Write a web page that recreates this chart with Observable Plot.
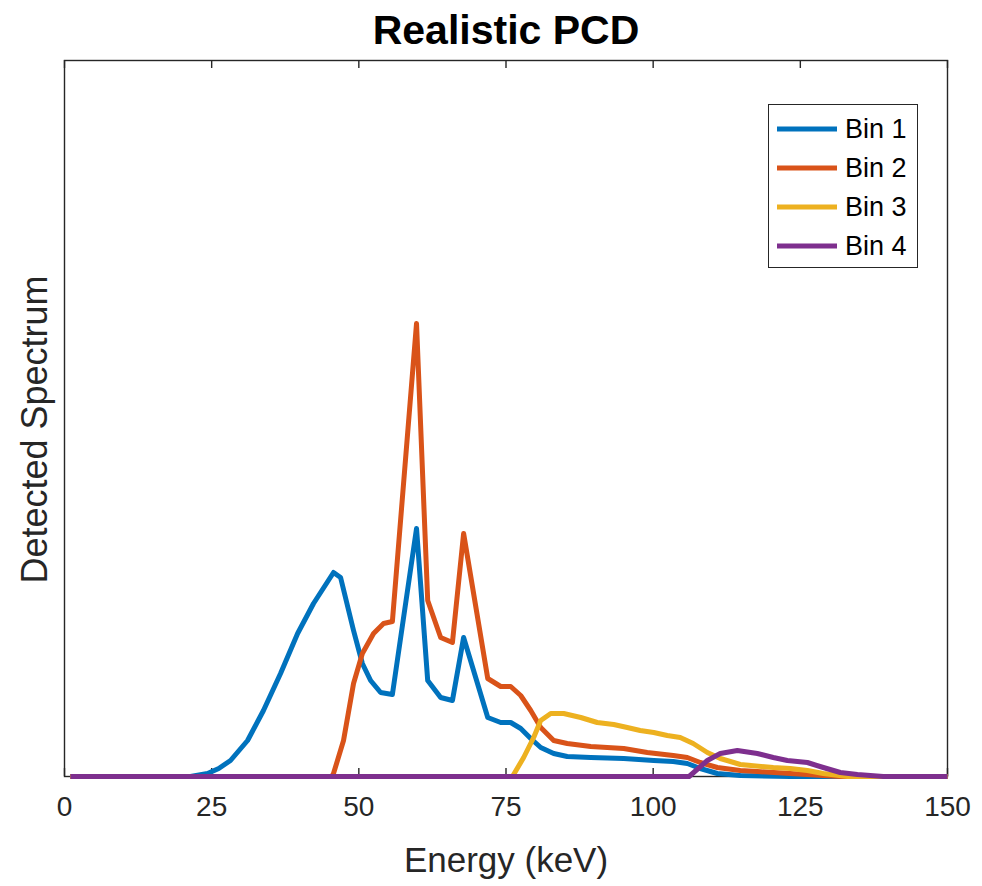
<!DOCTYPE html>
<html>
<head>
<meta charset="utf-8">
<script src="https://cdn.jsdelivr.net/npm/d3@7"></script>
<script src="https://cdn.jsdelivr.net/npm/@observablehq/plot@0.6"></script>
<style>
  html, body { margin: 0; padding: 0; background: #fff; }
  #wrap { position: relative; width: 982px; height: 886px; font-family: "Liberation Sans", Arial, Helvetica, sans-serif; }
  #legend { position: absolute; left: 768px; top: 104px; width: 150px; height: 164px; box-sizing: border-box;
            border: 1.3px solid #262626; background: #fff; }
  .entry { position: absolute; left: 8px; height: 30px; display: flex; align-items: center; font-size: 27px; color: #000; }
  .entry svg { margin-right: 8px; }
</style>
</head>
<body>
<div id="wrap"><div id="legend"></div></div>
<script>
// ---- data ----
const binNames = ["Bin 1", "Bin 2", "Bin 3", "Bin 4"];
const binColors = ["#0072BD", "#D95319", "#EDB120", "#7E2F8E"];
const xTicks = [0, 25, 50, 75, 100, 125, 150];

const bin1Energy = [1, 21.4, 24.3, 26.2, 28.2, 31.1, 33.8, 36.7, 39.6, 42.3, 45.7, 46.9, 49.1, 50.6, 52.0, 53.7, 55.7, 59.8, 61.7, 63.9, 65.9, 67.8, 71.9, 74.1, 75.8, 77.5, 79.2, 80.9, 83.1, 85.4, 89.4, 95.0, 100.1, 103.4, 105.8, 108.0, 110.9, 114.8, 123.3, 150];
const bin1Counts = [0, 0, 3, 8, 16, 36, 66, 103, 143, 173, 204, 199, 146, 113, 96, 84, 82, 248, 96, 79, 76, 139, 59, 54, 54, 48, 38, 29, 23, 20, 19, 18, 16, 15, 13, 8, 3, 1, 0, 0];

const bin2Energy = [1, 45.4, 45.7, 47.4, 49.1, 50.6, 52.5, 54.2, 55.7, 59.8, 61.7, 63.9, 65.9, 67.8, 71.9, 74.1, 75.8, 77.5, 79.2, 80.9, 83.1, 85.4, 89.4, 95.0, 99.0, 103.4, 105.8, 108.0, 110.9, 114.8, 117.7, 123.3, 128.9, 131.8, 150];
const bin2Counts = [0, 0, 3, 36, 93, 123, 143, 153, 155, 453, 176, 139, 134, 243, 98, 90, 90, 81, 66, 49, 36, 33, 30, 28, 24, 21, 19, 14, 9, 6, 5, 3, 1, 0, 0];

const bin3Energy = [1, 76.1, 78.0, 79.7, 80.9, 82.6, 84.8, 87.7, 90.5, 93.3, 95.6, 97.8, 100.1, 102.4, 104.6, 106.8, 109.2, 111.4, 114.8, 120.4, 123.3, 126.2, 128.9, 133.0, 150];
const bin3Counts = [0, 0, 19, 39, 56, 63, 63, 59, 54, 52, 49, 46, 44, 41, 39, 33, 24, 18, 12, 9, 8, 6, 3, 0, 0];

const bin4Energy = [1, 106.1, 109.2, 111.4, 114.3, 117.7, 120.4, 122.8, 126.2, 128.9, 131.8, 134.7, 139.1, 150];
const bin4Counts = [0, 0, 16, 23, 26, 23, 19, 16, 14, 9, 4, 2, 0, 0];

const energies = [bin1Energy, bin2Energy, bin3Energy, bin4Energy];
const counts = [bin1Counts, bin2Counts, bin3Counts, bin4Counts];
const rows = binNames.flatMap((name, i) => energies[i].map((e, j) => ({bin: name, energy: e, value: counts[i][j]})));

const ink = "#262626";
const yMax = 716;

const chart = Plot.plot({
  width: 982,
  height: 886,
  marginLeft: 64,
  marginRight: 35,
  marginTop: 60,
  marginBottom: 110,
  style: {fontFamily: "'Liberation Sans', Arial, Helvetica, sans-serif", color: ink, background: "#fff", overflow: "visible"},
  x: {domain: [0, 150], ticks: xTicks},
  y: {domain: [0, yMax], axis: null},
  color: {domain: binNames, range: binColors},
  marks: [
    Plot.frame({stroke: ink, strokeWidth: 1.4}),
    Plot.ruleX(xTicks, {x: d => d, y1: 0, y2: 8, stroke: ink, strokeWidth: 1.4}),
    Plot.ruleX(xTicks, {x: d => d, y1: yMax - 8, y2: yMax, stroke: ink, strokeWidth: 1.4}),
    Plot.axisX({anchor: "bottom", ticks: xTicks, tickSize: 0, tickPadding: 20, fontSize: 28, label: null, fill: ink}),
    Plot.line(rows, {x: "energy", y: "value", z: "bin", stroke: "bin", strokeWidth: 5, strokeLinejoin: "round", strokeLinecap: "butt"}),
    Plot.text(["Energy (keV)"], {frameAnchor: "bottom", dy: 84, fontSize: 35, fill: ink, lineAnchor: "middle"}),
    Plot.text(["Detected Spectrum"], {frameAnchor: "left", rotate: -90, dx: -29, dy: 11, fontSize: 36, fill: ink, lineAnchor: "middle", textAnchor: "middle"}),
    Plot.text(["Realistic PCD"], {frameAnchor: "top", dy: -30, fontSize: 41, fontWeight: "bold", fill: "#000", lineAnchor: "middle"})
  ]
});
document.getElementById("wrap").prepend(chart);

// legend
const legend = document.getElementById("legend");
const entryTops = [9, 48, 87, 126];
binNames.forEach((name, i) => {
  const div = document.createElement("div");
  div.className = "entry";
  div.style.top = entryTops[i] + "px";
  div.innerHTML = `<svg width="60" height="10"><line x1="0" x2="60" y1="5" y2="5" stroke="${binColors[i]}" stroke-width="5"/></svg><span>${name}</span>`;
  legend.appendChild(div);
});
</script>
</body>
</html>
